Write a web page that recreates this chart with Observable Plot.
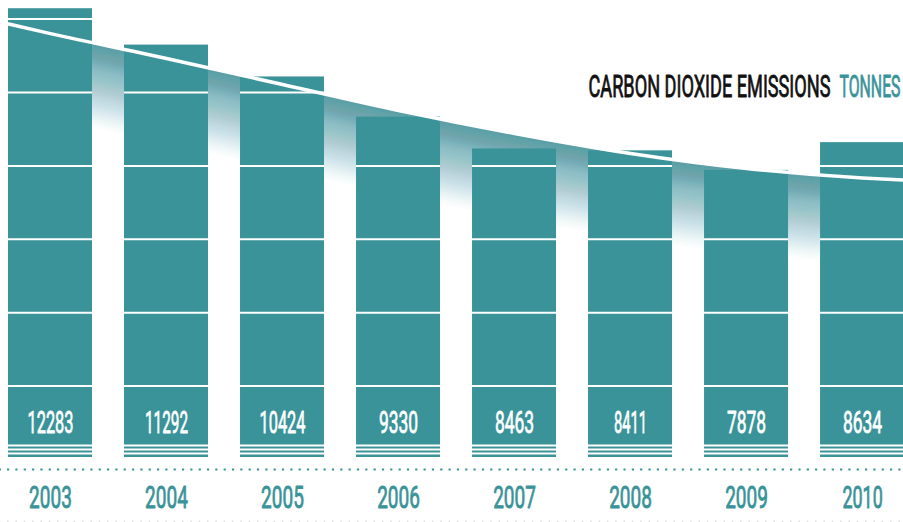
<!DOCTYPE html>
<html><head><meta charset="utf-8">
<script src="https://cdn.jsdelivr.net/npm/d3@7"></script>
<script src="https://cdn.jsdelivr.net/npm/@observablehq/plot@0.6"></script>
<style>html,body{margin:0;padding:0;background:#fff;} #chart svg{display:block;background:#fff}</style>
</head><body><div id="chart"></div>
<script>
// ---- data ----
const years = [2003, 2004, 2005, 2006, 2007, 2008, 2009, 2010];
const emissions = [12283, 11292, 10424, 9330, 8463, 8411, 7878, 8634];
const gridTicks = [2000, 4000, 6000, 8000, 10000, 12000];
const trendYears = [2002.64, 2003, 2004, 2005, 2006, 2007, 2008, 2009, 2010, 2010.35];
const trendValues = [11866, 11605, 10926, 10218, 9510, 8883, 8338, 7929, 7670, 7616];
const titleMain = "CARBON DIOXIDE EMISSIONS";
const titleUnit = "TONNES";

// ---- styling ----
const TEAL = "#3a9399";
const FONT = "Roboto,'Liberation Sans',Arial,sans-serif";
const halfBar = 0.362;
const fadeDepth = 2320;
const N = 40;

const data = years.map((year, i) => ({year, value: emissions[i]}));
const trend = trendYears.map((x, i) => ({x, v: trendValues[i]}));
const gridData = data.flatMap(d => gridTicks.filter(g => g < d.value).map(g => ({year: d.year, g})));

const fadeLayers = d3.range(1, N + 1).map(i => {
  const tPrev = 0.2 + 0.8 * (i - 1) / N, tCur = 0.2 + 0.8 * i / N;
  return Plot.areaY(trend, {
    x: "x", y1: d => d.v - fadeDepth * i / N, y2: "v",
    curve: "monotone-x", fill: TEAL, fillOpacity: 1 - tPrev / tCur
  });
});

const textStyle = {fontSize: 32, fontWeight: 400, fontFamily: FONT, lineAnchor: "middle"};

const svg = Plot.plot({
  width: 903, height: 522,
  marginTop: 0, marginBottom: 63, marginLeft: 0, marginRight: 0,
  x: {type: "linear", domain: [2002.569, 2010.353], axis: null},
  y: {domain: [0, 12507], axis: null},
  style: {background: "#fff"},
  marks: [
    ...fadeLayers,
    Plot.rectY(data, {x1: d => d.year - halfBar, x2: d => d.year + halfBar, y1: 0, y2: "value", fill: TEAL, insetBottom: 2}),
    Plot.ruleY([0], {dy: -14, stroke: "#fff", strokeWidth: 2}),
    Plot.ruleY([0], {dy: -10, stroke: "#fff", strokeWidth: 2}),
    Plot.ruleY([0], {dy: -6, stroke: "#fff", strokeWidth: 2}),
    Plot.ruleY(gridData, {y: "g", x1: d => d.year - halfBar, x2: d => d.year + halfBar, stroke: "#fff", strokeWidth: 2}),
    Plot.line(trend, {x: "x", y: "v", curve: "monotone-x", stroke: "#fff", strokeWidth: 3.5}),
    Plot.ruleY([0], {dy: 10, stroke: TEAL, strokeWidth: 2.2, strokeDasharray: "2.2 6.13", strokeDashoffset: 1.3}),
    Plot.ruleY([0], {dy: 62, stroke: "#d9d9d9", strokeWidth: 1.6, strokeDasharray: "1.6 6.73", strokeDashoffset: 1.3}),
    Plot.text(data, {x: "year", y: 0, text: d => String(d.value), dy: -36.4, fill: "#fff", stroke: "#fff", strokeWidth: 0.8, ...textStyle}),
    Plot.text(data, {x: "year", y: 0, text: d => String(d.year), dy: 38.1, fill: TEAL, stroke: TEAL, strokeWidth: 0.9, ...textStyle}),
    Plot.text([titleMain], {text: d => d, frameAnchor: "top-right", textAnchor: "end", dx: -73, dy: 86.1, fill: "#111", stroke: "#111", strokeWidth: 0.9, ...textStyle}),
    Plot.text([titleUnit], {text: d => d, frameAnchor: "top-right", textAnchor: "end", dx: -3, dy: 86.1, fill: TEAL, stroke: TEAL, strokeWidth: 0.9, ...textStyle})
  ]
});

// condensed lettering via textLength
const groups = svg.querySelectorAll('g[aria-label="text"]');
const setLen = (g, fn) => g.querySelectorAll("text").forEach(t => {
  t.setAttribute("textLength", fn(t.textContent));
  t.setAttribute("lengthAdjust", "spacingAndGlyphs");
});
const sumW = (s, one, other) => [...s].reduce((a, c) => a + (c === "1" ? one : other), 0);
setLen(groups[0], s => sumW(s, 6.8, 9.8));
setLen(groups[1], s => sumW(s, 8.2, 10.7));
setLen(groups[2], () => 242);
setLen(groups[3], () => 61);

document.getElementById("chart").appendChild(svg);
</script>
</body></html>
